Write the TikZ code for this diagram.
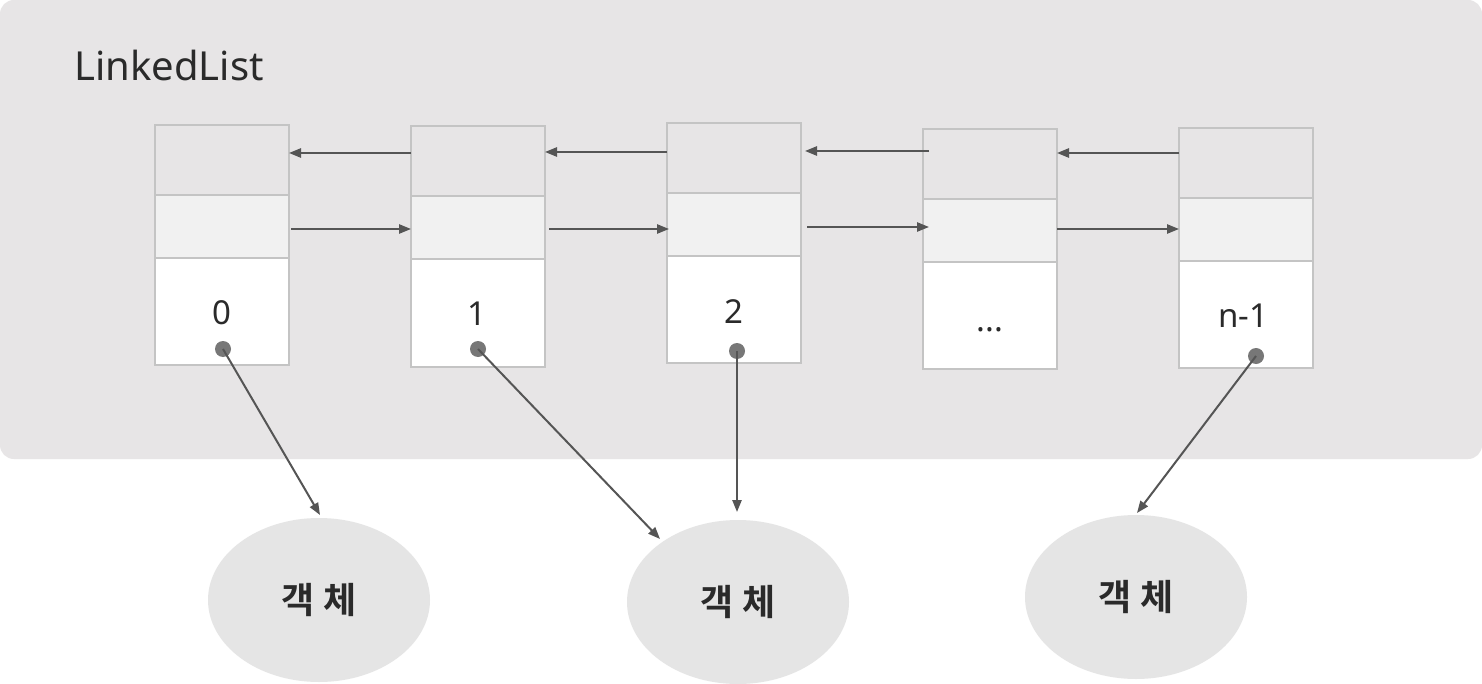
\documentclass[tikz,border=0pt]{standalone}
\usepackage{fontspec}
\setmainfont{Noto Sans}
\newfontfamily\kofont{Noto Sans CJK KR}[BoldFont={* Bold}]
\usetikzlibrary{arrows.meta,shapes.geometric}
\definecolor{panelgray}{HTML}{E7E5E6}
\definecolor{midgray}{HTML}{F1F1F1}
\definecolor{cellborder}{HTML}{C4C4C4}
\definecolor{arrowgray}{HTML}{555555}
\definecolor{dotgray}{HTML}{777777}
\definecolor{ellgray}{HTML}{E5E5E5}
\definecolor{txt}{HTML}{2A2A2A}
\tikzset{
  cellA/.style={draw=cellborder, line width=0.7pt, fill=panelgray},
  cellB/.style={draw=cellborder, line width=0.7pt, fill=midgray},
  cellC/.style={draw=cellborder, line width=0.7pt, fill=white},
  link/.style={draw=arrowgray, line width=1pt, -{Triangle[length=6pt,width=4.6pt]}},
  dotc/.style={circle, fill=dotgray, inner sep=0pt, minimum size=8pt},
  obj/.style={ellipse, fill=ellgray, inner sep=0pt, minimum width=111pt, minimum height=82pt, font=\kofont\bfseries\fontsize{18}{20}\selectfont, text=txt},
  idx/.style={font=\fontsize{16.5}{18}\selectfont, text=txt, inner sep=0pt},
}
\begin{document}
\begin{tikzpicture}[x=0.5pt,y=-0.5pt]
\useasboundingbox (0,0) rectangle (1482,684);
\fill[white] (0,0) rectangle (1482,684);
\fill[panelgray, rounded corners=7pt] (0,0) rectangle (1482,459);
\node[anchor=base west, inner sep=0pt, font=\fontsize{20}{24}\selectfont, text=txt] (title) at (74,81) {LinkedList};

% boxes: left, right, top, div1, div2, bottom
\foreach \n/\l/\r/\t/\da/\db/\b in {0/155/289/125/195/258/365, 1/411/545/126/196/259/367, 2/667/801/123/193/256/363, 3/923/1057/129/199/262/369, 4/1179/1313/128/198/261/368}{
  \path[cellA] (\l,\t) rectangle (\r,\da);
  \path[cellB] (\l,\da) rectangle (\r,\db);
  \path[cellC] (\l,\db) rectangle (\r,\b);
  \coordinate (tl\n) at (\l,\t);
}

% back arrows
\coordinate (b1s) at (411,153); \coordinate (b0e) at (289,153);
\coordinate (b2s) at (667,152); \coordinate (b1e) at (545,152);
\coordinate (b3s) at (929,151); \coordinate (b2e) at (805,151);
\coordinate (b4s) at (1179,153); \coordinate (b3e) at (1057,153);
\draw[link] (b1s) -- (b0e);
\draw[link] (b2s) -- (b1e);
\draw[link] (b3s) -- (b2e);
\draw[link] (b4s) -- (b3e);
% forward arrows
\coordinate (f0s) at (291,229); \coordinate (f1e) at (411,229);
\coordinate (f1s) at (549,229); \coordinate (f2e) at (669,229);
\coordinate (f2s) at (807,227); \coordinate (f3e) at (929,227);
\coordinate (f3s) at (1057,229); \coordinate (f4e) at (1179,229);
\draw[link] (f0s) -- (f1e);
\draw[link] (f1s) -- (f2e);
\draw[link] (f2s) -- (f3e);
\draw[link] (f3s) -- (f4e);

% index labels
\node[idx] (l0) at (222,313) {0};
\node[idx] (l1) at (477,314) {1};
\node[idx] (l2) at (734,312) {2};
\node[idx, anchor=base] (l3) at (990,331) {\textbf{...}};
\node[idx] (l4) at (1243,316) {n-1};

% dots
\node[dotc] (d0) at (223,349) {};
\node[dotc] (d1) at (478,349) {};
\node[dotc] (d2) at (737,351) {};
\node[dotc] (d4) at (1256,356) {};

% objects
\node[obj] (o1) at (319,600) {객 체};
\node[obj] (o2) at (738,602) {객 체};
\node[obj] (o3) at (1136,597) {객 체};

\coordinate (t0) at (320,515);
\coordinate (t1) at (660,539);
\coordinate (t2) at (737,512);
\coordinate (t4) at (1137,513);
\draw[link] (d0.center) -- (t0);
\draw[link] (d1.center) -- (t1);
\draw[link] (d2.center) -- (t2);
\draw[link] (d4.center) -- (t4);
\end{tikzpicture}
\end{document}
